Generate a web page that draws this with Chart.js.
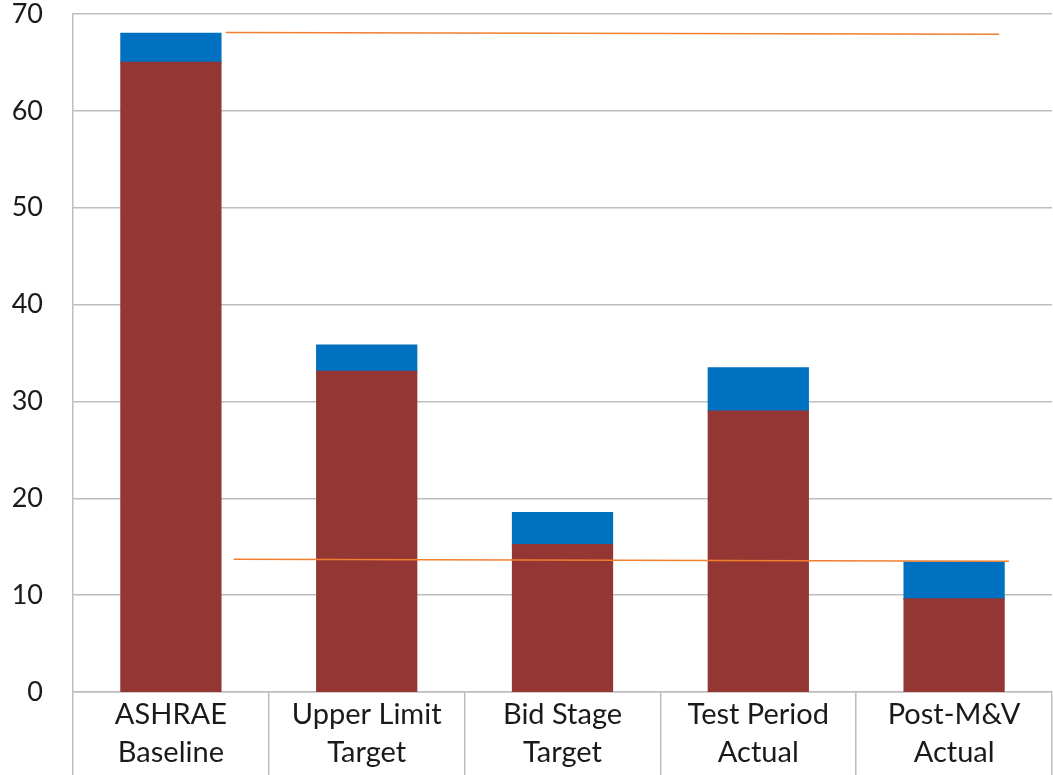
<!DOCTYPE html>
<html>
<head>
<meta charset="utf-8">
<script src="https://cdn.jsdelivr.net/npm/chart.js@4/dist/chart.umd.min.js"></script>
<style>
  html, body { margin: 0; padding: 0; background: #ffffff; }
  #wrap { width: 1053px; height: 775px; }
</style>
</head>
<body>
<div id="wrap"><canvas id="c" width="1053" height="775"></canvas></div>
<script>
// Categories (two-line labels)
const categories = [
  ['ASHRAE', 'Baseline'],
  ['Upper Limit', 'Target'],
  ['Bid Stage', 'Target'],
  ['Test Period', 'Actual'],
  ['Post-M&V', 'Actual']
];

// Stacked bar segments
const baseValues = [65.0, 33.1, 15.2, 29.0, 9.6];
const topValues  = [3.0, 2.7, 3.3, 4.45, 3.8];

// Reference lines: y at start/end, and their extent in category units
const upperLineY = [68.1, 67.9];
const upperLineX = [0.28, 4.23];
const lowerLineY = [13.7, 13.5];
const lowerLineX = [0.32, 4.28];

// Y axis
const yMin = 0, yMax = 70, yStep = 10;

const FONT = 'Lato, "Open Sans", "Liberation Sans", sans-serif';
const GRID = '#bdbdbd';

const toPoints = (xs, ys) => xs.map((x, i) => ({ x: x, y: ys[i] }));

const lineStyle = {
  type: 'line',
  xAxisID: 'x2',
  yAxisID: 'y2',
  borderColor: '#f07f2f',
  borderWidth: 1.5,
  pointRadius: 0,
  fill: false,
  order: 0
};

const barStyle = {
  xAxisID: 'x',
  yAxisID: 'y',
  grouped: false,
  barPercentage: 0.51,
  categoryPercentage: 1.0,
  inflateAmount: 0.7,
  order: 1
};

new Chart(document.getElementById('c'), {
  type: 'bar',
  data: {
    labels: categories,
    datasets: [
      Object.assign({ data: toPoints(upperLineX, upperLineY) }, lineStyle),
      Object.assign({ data: toPoints(lowerLineX, lowerLineY) }, lineStyle),
      Object.assign({ data: baseValues, backgroundColor: '#943634' }, barStyle),
      Object.assign({ data: topValues, backgroundColor: '#0070c0' }, barStyle)
    ]
  },
  options: {
    responsive: false,
    animation: false,
    devicePixelRatio: 1,
    layout: { padding: { top: 14, right: 1, left: 0, bottom: 0 } },
    plugins: {
      legend: { display: false },
      tooltip: { enabled: false }
    },
    scales: {
      x: {
        stacked: true,
        offset: true,
        grid: {
          offset: true,
          drawOnChartArea: false,
          drawTicks: true,
          tickLength: 83,
          color: GRID,
          lineWidth: 1.5
        },
        border: { display: true, color: GRID, width: 1.5 },
        ticks: {
          padding: -80,
          color: '#1a1a1a',
          font: { family: FONT, size: 29, lineHeight: 1.33 },
          maxRotation: 0,
          autoSkip: false
        },
        afterFit: (s) => {
          s.height = 83;
          s.paddingLeft = 0; s.paddingRight = 0;
          s.paddingTop = 0; s.paddingBottom = 0;
        }
      },
      y: {
        stacked: true,
        min: yMin,
        max: yMax,
        ticks: {
          stepSize: yStep,
          padding: 30,
          color: '#1a1a1a',
          font: { family: FONT, size: 27 }
        },
        grid: {
          color: GRID,
          lineWidth: 1.5,
          drawTicks: false
        },
        border: { display: true, color: GRID, width: 1.5 },
        afterFit: (s) => {
          s.width = 73;
          s.paddingTop = 0; s.paddingBottom = 0;
          s.paddingLeft = 0; s.paddingRight = 0;
        }
      },
      x2: {
        type: 'linear',
        display: false,
        offset: false,
        grid: { offset: false },
        min: -0.5,
        max: 4.5
      },
      y2: {
        type: 'linear',
        display: false,
        min: yMin,
        max: yMax
      }
    }
  }
});
</script>
</body>
</html>
